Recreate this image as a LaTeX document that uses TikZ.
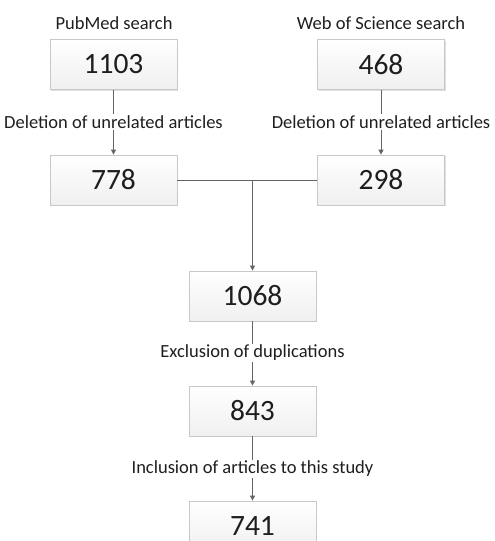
\documentclass[tikz,border=0pt]{standalone}
\usepackage{fontspec}
\setmainfont{Carlito}
\usetikzlibrary{arrows.meta,shadows}
\definecolor{txt}{RGB}{30,30,30}
\definecolor{ln}{RGB}{100,100,100}
\definecolor{bd}{RGB}{200,200,200}
\tikzset{
  numbox/.style={draw=bd, line width=0.8pt, top color=white, bottom color=gray!12,
    minimum width=127pt, minimum height=50pt, inner sep=0pt,
    font=\fontsize{29.5}{30}\selectfont, text=txt,
    drop shadow={shadow xshift=1pt, shadow yshift=-1.2pt, opacity=0.25, fill=gray}},
  lbl/.style={font=\fontsize{18.5}{19}\selectfont, text=txt, inner sep=1pt},
  conn/.style={draw=ln, line width=1pt},
  arr/.style={conn, -{Triangle[length=5pt,width=5pt]}}
}
\begin{document}
\begin{tikzpicture}[x=1pt,y=-1pt]
\useasboundingbox (0,0) rectangle (495,541);
\node[lbl] (l1) at (114,23) {PubMed search};
\node[lbl] (l2) at (381,23) {Web of Science search};
\node[numbox] (a) at (113.5,64.5) {1103};
\node[numbox] (b) at (381,64.5) {468};
\node[lbl] (d1) at (113.5,122) {Deletion of unrelated articles};
\node[lbl] (d2) at (381,122) {Deletion of unrelated articles};
\node[numbox] (c) at (113.5,180) {778};
\node[numbox] (d) at (381,180) {298};
\node[numbox] (e) at (252.5,296) {1068};
\node[lbl] (x1) at (252.5,353) {Exclusion of duplications};
\node[numbox] (f) at (252.5,411) {843};
\node[lbl] (x2) at (252.5,469) {Inclusion of articles to this study};
\node[numbox] (g) at (252.5,526) {741};
\coordinate (m) at (252.5,180);
\draw[conn] (a.south) -- (d1.north);
\draw[arr] (d1.south) -- (c.north);
\draw[conn] (b.south) -- (d2.north);
\draw[arr] (d2.south) -- (d.north);
\draw[conn] (c.east) -- (d.west);
\draw[arr] (m) -- (e.north);
\draw[conn] (e.south) -- (x1.north);
\draw[arr] (x1.south) -- (f.north);
\draw[conn] (f.south) -- (x2.north);
\draw[arr] (x2.south) -- (g.north);
\end{tikzpicture}
\end{document}
